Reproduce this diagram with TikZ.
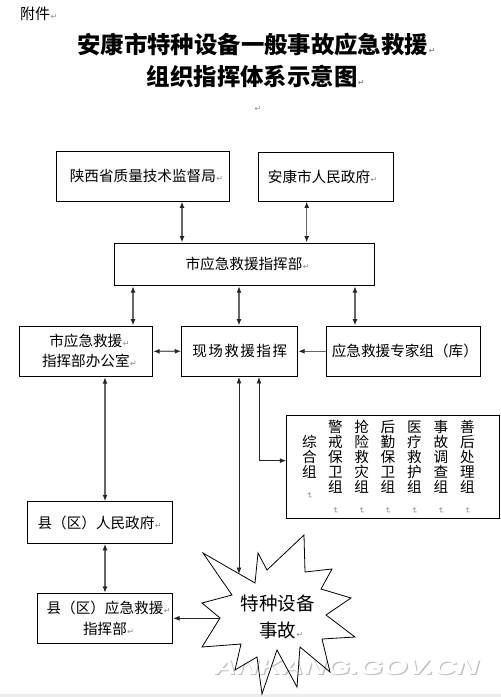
\documentclass[tikz,border=0pt]{standalone}
\usepackage{fontspec}
\setmainfont{Noto Sans CJK SC}
\newfontfamily\dv{DejaVu Sans}
\newfontfamily\wmfont{Liberation Sans}
\usetikzlibrary{arrows.meta}
\newcommand\mkglyph{\textcolor{black!45}{\dv\fontsize{8}{8}\selectfont ↵}}
\newcommand\pmk{\rlap{\kern0.5pt\mkglyph}}
\newcommand\vmk{\rotatebox{-90}{\mkglyph}}
\newcommand\bfsz{\fontsize{14.6}{20}\selectfont}
\begin{document}
\begin{tikzpicture}[x=1pt,y=-1pt,
  mytip/.tip={Latex[length=6.5pt,width=5pt]},
  box/.style={draw, line width=0.9pt, inner sep=0pt, font=\bfsz},
  garr/.style={line width=1.3pt, draw=black!60, {mytip[color=black!85]}-{mytip[color=black!85]}},
  garrone/.style={line width=1.3pt, draw=black!60, -{mytip[color=black!85]}},
  tarr/.style={line width=0.9pt, draw=black!85, {mytip}-{mytip}},
  tarrone/.style={line width=0.9pt, draw=black!85, -{mytip}},
  col/.style={inner sep=0pt, align=center, font=\fontsize{14.6}{15}\selectfont},
]
\fill[white] (0,0) rectangle (501,697);
\useasboundingbox (0,0) rectangle (501,697);
\fill[black!7] (0,693.5) rectangle (501,697);

% header
\node[font=\fontsize{15}{15}\selectfont] (fj) at (35,14) {附件\pmk};
\node[font=\bfseries\fontsize{23.4}{30}\selectfont] (t1) at (252.7,45) {安康市特种设备一般事故应急救援\pmk};
\node[font=\bfseries\fontsize{23.4}{30}\selectfont] (t2) at (252.2,76.5) {组织指挥体系示意图\pmk};
\node[inner sep=0pt] (emk) at (258,109) {\mkglyph};

% boxes
\node[box, minimum width=172.3pt, minimum height=49.3pt] (sxj) at (142.85,176.35) {陕西省质量技术监督局\pmk};
\node[box, minimum width=135pt, minimum height=49pt] (akgov) at (325.5,176.5) {\hspace*{-13pt}安康市人民政府\pmk};
\node[box, minimum width=260pt, minimum height=42.7pt] (cmd) at (244,264.35) {市应急救援指挥部\pmk};
\node[box, minimum width=133.7pt, minimum height=50.7pt, align=center] (office) at (85.85,351.35) {市应急救援\pmk\\指挥部办公室\pmk};
\node[box, minimum width=116pt, minimum height=50.5pt] (scene) at (239.7,351.25) {\addfontfeature{LetterSpace=10}现场救援指挥};
\node[box, minimum width=154.7pt, minimum height=50.5pt] (expert) at (403.35,351.25) {\hspace*{3pt}应急救援专家组（库）};
\node[box, minimum width=212.3pt, minimum height=103.3pt] (groups) at (392.85,466.65) {};
\node[box, minimum width=145.4pt, minimum height=41.6pt] (countygov) at (100,522.5) {\hspace*{-8pt}县（区）人民政府\pmk};
\node[box, minimum width=135.4pt, minimum height=50pt, align=center, font=\fontsize{14.6}{21.5}\selectfont] (countycmd) at (105,618.3) {县（区）应急救援\pmk\\指挥部\pmk};

% group columns
\node[col] (g1) at (309.5,467.5) {综\\合\\组\\\vmk};
\node[col] (g2) at (335.5,467.5) {警\\戒\\保\\卫\\组\\\vmk};
\node[col] (g3) at (361.7,467.5) {抢\\险\\救\\灾\\组\\\vmk};
\node[col] (g4) at (388,467.5) {后\\勤\\保\\卫\\组\\\vmk};
\node[col] (g5) at (414.5,467.5) {医\\疗\\救\\护\\组\\\vmk};
\node[col] (g6) at (441,467.5) {事\\故\\调\\查\\组\\\vmk};
\node[col] (g7) at (467.5,467.5) {善\\后\\处\\理\\组\\\vmk};

% watermark
\node[font=\wmfont\bfseries\itshape\fontsize{21}{21}\selectfont, text=black!25] (wmshadow) at (347.7,668.2) {\scalebox{1.48}[1]{ANKANG.GOV.CN}};
\node[font=\wmfont\bfseries\itshape\fontsize{21}{21}\selectfont, text=white] (wm) at (346.5,667) {\scalebox{1.48}[1]{ANKANG.GOV.CN}};

% explosion
\draw[line width=0.8pt, line join=miter, miter limit=20]
  (203,553) -- (255,583) -- (258,553) -- (267,570) -- (304,535) -- (305,572)
  -- (332,569) -- (321,589) -- (351,598) -- (326,615) -- (355,637) -- (322,639)
  -- (330,672) -- (300,647) -- (297,687) -- (277,650) -- (262,694) -- (257,657)
  -- (235,670) -- (241,644) -- (202,647) -- (220,618) -- (202,603) -- (232,595) -- cycle;
\node[align=center, font=\fontsize{18.5}{27}\selectfont] (acc) at (277.5,617) {特种设备\\事故\pmk};
\coordinate (burstN) at (239,574);
\coordinate (burstW) at (220,618.3);

% connectors
\draw[garr] (sxj.south -| 182,0) -- (cmd.north -| 182,0);
\draw[garr] (akgov.south -| 306.7,0) -- (cmd.north -| 306.7,0);
\draw[garr] (cmd.south -| 133,0) -- (office.north -| 133,0);
\draw[garr] (cmd.south -| 239,0) -- (scene.north -| 239,0);
\draw[garr] (cmd.south -| 355,0) -- (expert.north -| 355,0);
\draw[garr] (office.east) -- (scene.west);
\draw[garrone] (expert.west) -- (scene.east);
\draw[garr] (office.south -| 105,0) -- (countygov.north -| 105,0);
\draw[garr] (countygov.south -| 105,0) -- (countycmd.north -| 105,0);
\draw[tarr] (scene.south -| 239,0) -- (burstN);
\draw[tarr] (scene.south -| 259,0) |- ([yshift=6pt]groups.west);
\draw[tarrone] (burstW) -- (countycmd.east);
\end{tikzpicture}
\end{document}
